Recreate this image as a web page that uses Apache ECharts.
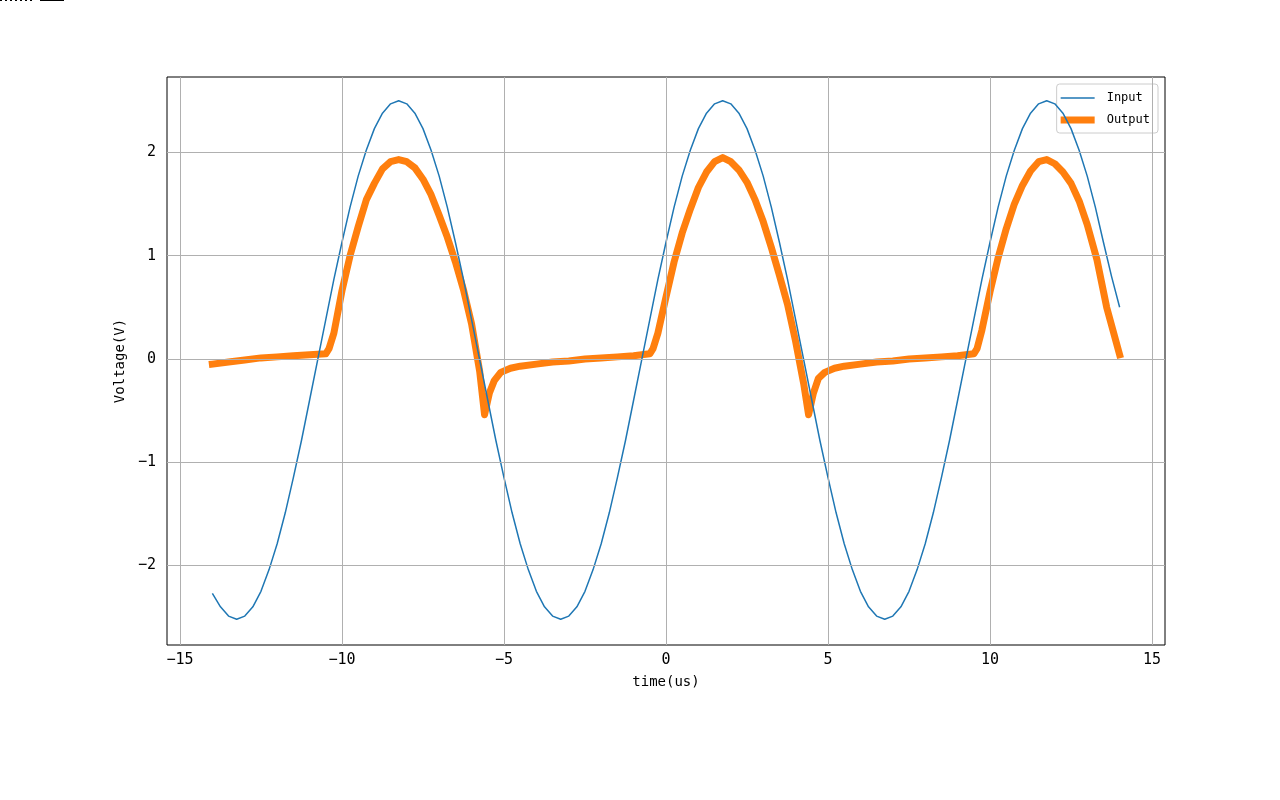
<!DOCTYPE html>
<html><head><meta charset="utf-8">
<script src="https://cdn.jsdelivr.net/npm/echarts@6/dist/echarts.min.js"></script>
<style>html,body{margin:0;padding:0;background:#fff}#c{width:1280px;height:800px}</style>
</head><body><div id="c"></div>
<script>
// ---- data ----
const inputT = [
  -14, -13.75, -13.5, -13.25, -13, -12.75, -12.5, -12.25, -12, -11.75, -11.5, -11.25, -11, -10.75, -10.5, -10.25,
  -10, -9.75, -9.5, -9.25, -9, -8.75, -8.5, -8.25, -8, -7.75, -7.5, -7.25, -7, -6.75, -6.5, -6.25,
  -6, -5.75, -5.5, -5.25, -5, -4.75, -4.5, -4.25, -4, -3.75, -3.5, -3.25, -3, -2.75, -2.5, -2.25,
  -2, -1.75, -1.5, -1.25, -1, -0.75, -0.5, -0.25, 0, 0.25, 0.5, 0.75, 1, 1.25, 1.5, 1.75,
  2, 2.25, 2.5, 2.75, 3, 3.25, 3.5, 3.75, 4, 4.25, 4.5, 4.75, 5, 5.25, 5.5, 5.75,
  6, 6.25, 6.5, 6.75, 7, 7.25, 7.5, 7.75, 8, 8.25, 8.5, 8.75, 9, 9.25, 9.5, 9.75,
  10, 10.25, 10.5, 10.75, 11, 11.25, 11.5, 11.75, 12, 12.25, 12.5, 12.75, 13, 13.25, 13.5, 13.75, 14
];
const inputV = [
  -2.27, -2.40, -2.49, -2.52, -2.49, -2.40, -2.25, -2.04, -1.79, -1.49, -1.15, -0.79, -0.40, -0.01, 0.38, 0.77,
  1.13, 1.47, 1.77, 2.02, 2.23, 2.38, 2.47, 2.50, 2.47, 2.38, 2.23, 2.02, 1.77, 1.47, 1.13, 0.77,
  0.38, -0.01, -0.40, -0.79, -1.15, -1.49, -1.79, -2.04, -2.25, -2.40, -2.49, -2.52, -2.49, -2.40, -2.25, -2.04,
  -1.79, -1.49, -1.15, -0.79, -0.40, -0.01, 0.38, 0.77, 1.13, 1.47, 1.77, 2.02, 2.23, 2.38, 2.47, 2.50,
  2.47, 2.38, 2.23, 2.02, 1.77, 1.47, 1.13, 0.77, 0.38, -0.01, -0.40, -0.79, -1.15, -1.49, -1.79, -2.04,
  -2.25, -2.40, -2.49, -2.52, -2.49, -2.40, -2.25, -2.04, -1.79, -1.49, -1.15, -0.79, -0.40, -0.01, 0.38, 0.77,
  1.13, 1.47, 1.77, 2.02, 2.23, 2.38, 2.47, 2.50, 2.47, 2.38, 2.23, 2.02, 1.77, 1.47, 1.13, 0.80, 0.50
];
const outputT = [
  -14, -13.5, -13, -12.5, -12, -11.5, -11, -10.5, -10.4, -10.25, -10, -9.75, -9.5, -9.25, -9, -8.75, -8.5, -8.25,
  -8, -7.75, -7.5, -7.25, -7, -6.75, -6.5, -6.25, -6, -5.75, -5.6, -5.45, -5.3, -5.1, -4.8, -4.5, -4, -3.5,
  -3, -2.5, -2, -1.5, -1, -0.5, -0.4, -0.25, 0, 0.25, 0.5, 0.75, 1, 1.25, 1.5, 1.75,
  2, 2.25, 2.5, 2.75, 3, 3.25, 3.5, 3.75, 4, 4.25, 4.4, 4.55, 4.7, 4.9, 5.2, 5.5,
  6, 6.5, 7, 7.5, 8, 8.5, 9, 9.5, 9.6, 9.75, 10, 10.25, 10.5, 10.75, 11, 11.25,
  11.5, 11.75, 12, 12.25, 12.5, 12.75, 13, 13.3, 13.6, 14
];
const outputV = [
  -0.05, -0.03, -0.01, 0.01, 0.02, 0.03, 0.04, 0.05, 0.10, 0.25, 0.66, 1.00, 1.28, 1.54, 1.70, 1.84, 1.91, 1.93,
  1.91, 1.85, 1.74, 1.59, 1.39, 1.18, 0.94, 0.67, 0.34, -0.12, -0.54, -0.33, -0.21, -0.13, -0.09, -0.07, -0.05, -0.03,
  -0.02, 0.00, 0.01, 0.02, 0.03, 0.05, 0.10, 0.25, 0.60, 0.94, 1.22, 1.45, 1.66, 1.81, 1.91, 1.95,
  1.91, 1.83, 1.71, 1.54, 1.33, 1.08, 0.81, 0.53, 0.17, -0.24, -0.54, -0.33, -0.19, -0.13, -0.09, -0.07,
  -0.05, -0.03, -0.02, 0.00, 0.01, 0.02, 0.03, 0.05, 0.10, 0.28, 0.65, 0.98, 1.26, 1.50, 1.68, 1.82,
  1.91, 1.93, 1.89, 1.81, 1.70, 1.53, 1.30, 0.96, 0.50, 0.04
];
const seriesNames = ['Input', 'Output'];
const xTicks = [-15, -10, -5, 0, 5, 10, 15];
const yTicks = [-2, -1, 0, 1, 2];
const xRange = [-15.4, 15.4];
const yRange = [-2.77, 2.73];
const axisNames = ['time(us)', 'Voltage(V)'];

// ---- chart ----
const FONT = '"DejaVu Sans Mono", monospace';
const fmt = v => String(v).replace('-', '\u2212');
const zip = (a, b) => a.map((t, i) => [t, b[i]]);
const gridColor = '#b0b0b0';
// legend line icons: tiny corner sub-paths fix the 34x14 box, a centred bar gives the line thickness
const lineIcon = w => {
  const y0 = (7 - w / 2).toFixed(2), y1 = (7 + w / 2).toFixed(2);
  return 'path://M0,0 L0.01,0 L0.01,0.01 Z M0,' + y0 + ' L34,' + y0 + ' L34,' + y1 + ' L0,' + y1 + ' Z M33.99,13.99 L34,13.99 L34,14 Z';
};
const chart = echarts.init(document.getElementById('c'), null, { renderer: 'canvas' });

const option = {
  animation: false,
  backgroundColor: '#ffffff',
  textStyle: { fontFamily: FONT },
  grid: { left: 167, top: 77, right: 115, bottom: 155, show: true, borderColor: '#000', borderWidth: 1, backgroundColor: 'transparent' },
  xAxis: {
    type: 'value', min: xRange[0], max: xRange[1],
    name: axisNames[0], nameLocation: 'middle', nameGap: 30,
    nameTextStyle: { fontFamily: FONT, fontSize: 14, color: '#000' },
    axisLine: { show: false }, splitLine: { show: false },
    axisTick: { show: true, inside: false, length: 5, customValues: xTicks, lineStyle: { color: '#000', width: 1 } },
    axisLabel: { customValues: xTicks, formatter: fmt, fontFamily: FONT, fontSize: 15, color: '#000', margin: 8 }
  },
  yAxis: {
    type: 'value', min: yRange[0], max: yRange[1],
    name: axisNames[1], nameLocation: 'middle', nameGap: 35, nameRotate: 90,
    nameTextStyle: { fontFamily: FONT, fontSize: 14, color: '#000' },
    axisLine: { show: false }, splitLine: { show: false },
    axisTick: { show: true, inside: false, length: 5, customValues: yTicks, lineStyle: { color: '#000', width: 1 } },
    axisLabel: { customValues: yTicks, formatter: fmt, fontFamily: FONT, fontSize: 15, color: '#000', margin: 11 }
  },
  legend: {
    show: true,
    data: [
      { name: seriesNames[0], icon: lineIcon(1.5) },
      { name: seriesNames[1], icon: lineIcon(7) }
    ],
    orient: 'vertical', right: 122, top: 84,
    itemWidth: 34, itemHeight: 14, itemGap: 8,
    padding: [7, 8, 6, 4],
    backgroundColor: 'rgba(255,255,255,0.8)', borderColor: '#cccccc', borderWidth: 1, borderRadius: 3,
    textStyle: { fontFamily: FONT, fontSize: 12, color: '#000', padding: [0, 0, 0, 7] },
    selectedMode: false
  },
  series: [
    {
      type: 'line', name: 'grid', data: [], z: 1, silent: true, symbol: 'none',
      markLine: {
        silent: true, symbol: ['none', 'none'], label: { show: false }, animation: false,
        lineStyle: { color: gridColor, width: 1, type: 'solid' },
        emphasis: { disabled: true },
        data: xTicks.map(v => ({ xAxis: v })).concat(yTicks.map(v => ({ yAxis: v })))
      }
    },
    {
      type: 'line', name: seriesNames[1], data: zip(outputT, outputV), z: 3,
      showSymbol: false, symbol: 'none', smooth: false,
      lineStyle: { color: '#ff7f0e', width: 7, join: 'round', cap: 'square' },
      itemStyle: { color: '#ff7f0e' }, emphasis: { disabled: true }
    },
    {
      type: 'line', name: seriesNames[0], data: zip(inputT, inputV), z: 4,
      showSymbol: false, symbol: 'none', smooth: false,
      lineStyle: { color: '#1f77b4', width: 1.5, join: 'round' },
      itemStyle: { color: '#1f77b4' }, emphasis: { disabled: true }
    }
  ],
  graphic: [
    { type: 'line', shape: { x1: 0, y1: 0.5, x2: 34, y2: 0.5 }, style: { stroke: '#000', lineWidth: 1, lineDash: [2, 3] } },
    { type: 'line', shape: { x1: 40, y1: 0.5, x2: 64, y2: 0.5 }, style: { stroke: '#000', lineWidth: 1 } }
  ]
};
chart.setOption(option);
</script>
</body></html>
